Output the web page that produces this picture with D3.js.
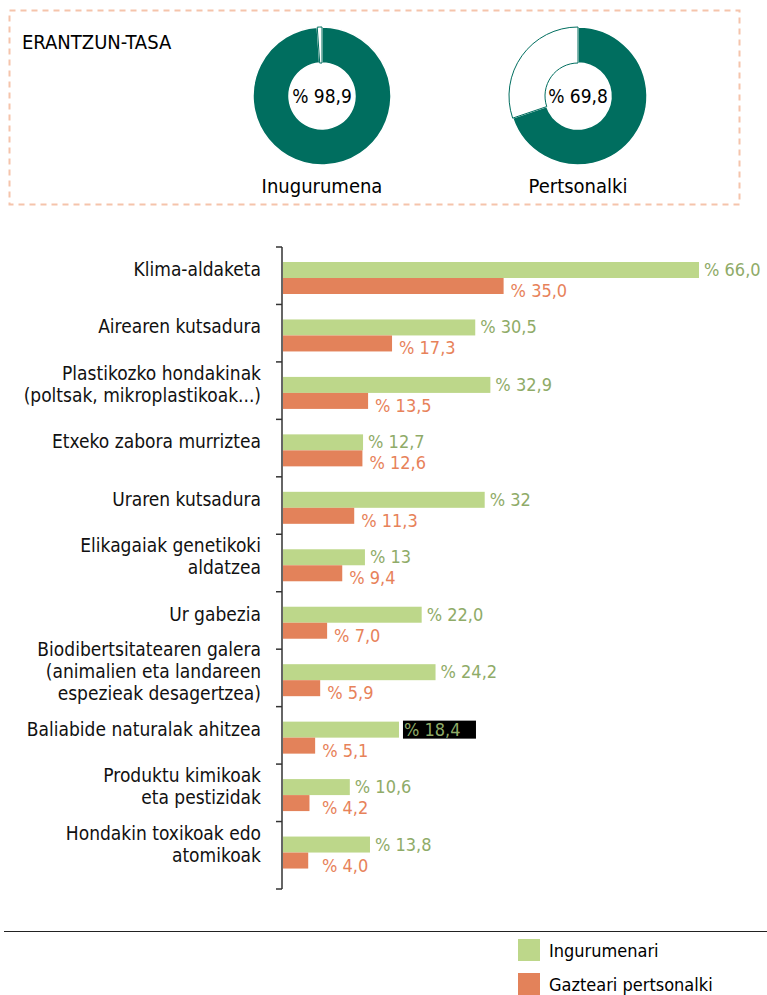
<!DOCTYPE html>
<html>
<head>
<meta charset="utf-8">
<script src="https://cdn.jsdelivr.net/npm/d3@7"></script>
<style>
  body { margin: 0; background: #fff; }
  svg { display: block; font-family: "DejaVu Sans Condensed", "Liberation Sans Narrow", "Roboto", sans-serif; }
</style>
</head>
<body>
<svg width="767" height="995"></svg>
<script>
// erantzun-tasa
var rateNames = ["Inugurumena", "Pertsonalki"]
var rateValues = [98.9, 69.8]

// gaiak
var categories = [
  ["Klima-aldaketa"],
  ["Airearen kutsadura"],
  ["Plastikozko hondakinak", "(poltsak, mikroplastikoak...)"],
  ["Etxeko zabora murriztea"],
  ["Uraren kutsadura"],
  ["Elikagaiak genetikoki", "aldatzea"],
  ["Ur gabezia"],
  ["Biodibertsitatearen galera", "(animalien eta landareen", "espezieak desagertzea)"],
  ["Baliabide naturalak ahitzea"],
  ["Produktu kimikoak", "eta pestizidak"],
  ["Hondakin toxikoak edo", "atomikoak"]
]
var ingurumenari = [66.0, 30.5, 32.9, 12.7, 32, 13, 22.0, 24.2, 18.4, 10.6, 13.8]
var gazteari = [35.0, 17.3, 13.5, 12.6, 11.3, 9.4, 7.0, 5.9, 5.1, 4.2, 4.0]
// as written in the picture
var ingTxt = ["66,0", "30,5", "32,9", "12,7", "32", "13", "22,0", "24,2", "18,4", "10,6", "13,8"]
var gazTxt = ["35,0", "17,3", "13,5", "12,6", "11,3", "9,4", "7,0", "5,9", "5,1", "4,2", "4,0"]
var legendNames = ["Ingurumenari", "Gazteari pertsonalki"]

var green = "#bdd78a", greenTxt = "#8fab68"
var orange = "#e3825a", orangeTxt = "#e7825a"
var teal = "#006e5f"

var svg = d3.select("svg")

// ---- top panel
svg.append("rect")
  .attr("x", 9.5).attr("y", 10.5).attr("width", 730).attr("height", 194)
  .attr("fill", "none").attr("stroke", "#f5c4ab").attr("stroke-width", 2)
  .attr("stroke-dasharray", "6,5")

svg.append("text").attr("x", 22).attr("y", 49)
  .attr("font-size", 20).attr("font-weight", 500).text("ERANTZUN-TASA")

var pie = d3.pie().sort(null)
var arc = d3.arc().innerRadius(33).outerRadius(69)
var cx = d3.scalePoint().domain(rateNames).range([322, 578])

var donut = svg.selectAll("g.donut")
  .data(rateNames)
  .enter()
  .append("g")
    .attr("class", "donut")
    .attr("transform", function(d){ return `translate(${cx(d)}, 96)` })

donut.selectAll("path")
  .data(function(d, i){ return pie([rateValues[i], 100 - rateValues[i]]) })
  .enter()
  .append("path")
    .attr("d", arc)
    .attr("fill", function(d, i){ return i == 0 ? teal : "#fff" })
    .attr("stroke", function(d, i){ return i == 0 ? "#fff" : teal })
    .attr("stroke-width", function(d, i){ return i == 0 ? 1.5 : 1 })

donut.append("text")
  .attr("text-anchor", "middle").attr("y", 7)
  .attr("font-size", 19).attr("font-weight", 500)
  .text(function(d, i){ return "% " + String(rateValues[i]).replace(".", ",") })

donut.append("text")
  .attr("text-anchor", "middle").attr("y", 97)
  .attr("font-size", 20)
  .text(function(d){ return d })

// ---- bars
var y = d3.scaleBand().domain(d3.range(categories.length)).range([247, 879])
var x = d3.scaleLinear().domain([0, 66]).range([283, 699])
var barH = 16

var axis = svg.append("g").attr("transform", "translate(282,0)")
axis.append("line").attr("y1", 247).attr("y2", 889)
  .attr("stroke", "#333").attr("stroke-width", 1.5)
axis.selectAll("line.tick")
  .data(d3.range(categories.length).map(function(i){ return y(i) }).concat([889]))
  .enter()
  .append("line")
    .attr("class", "tick")
    .attr("x1", -6).attr("x2", 0)
    .attr("y1", function(d){ return d }).attr("y2", function(d){ return d })
    .attr("stroke", "#333").attr("stroke-width", 1.5)

var row = svg.selectAll("g.row")
  .data(categories)
  .enter()
  .append("g")
    .attr("class", "row")
    .attr("transform", function(d, i){ return `translate(0, ${y(i) + 15})` })

row.append("rect")
  .attr("x", x(0)).attr("y", 0).attr("height", barH)
  .attr("width", function(d, i){ return x(ingurumenari[i]) - x(0) })
  .attr("fill", green)

row.append("rect")
  .attr("x", x(0)).attr("y", barH).attr("height", barH)
  .attr("width", function(d, i){ return x(gazteari[i]) - x(0) })
  .attr("fill", orange)

// the odd black box behind "% 18,4"
row.filter(function(d, i){ return i == 8 })
  .append("rect")
    .attr("x", x(ingurumenari[8]) + 4)
    .attr("y", -1).attr("width", 73).attr("height", 18)
    .attr("fill", "#000")

row.append("text")
  .attr("x", function(d, i){ return x(ingurumenari[i]) + 5 })
  .attr("y", 14)
  .attr("font-size", 18).attr("font-weight", 500).attr("fill", greenTxt)
  .text(function(d, i){ return "% " + ingTxt[i] })

row.append("text")
  .attr("x", function(d, i){ return Math.max(x(gazteari[i]) + 7, 322) })
  .attr("y", 35)
  .attr("font-size", 18).attr("font-weight", 500).attr("fill", orangeTxt)
  .text(function(d, i){ return "% " + gazTxt[i] })

var lab = row.append("text")
  .attr("text-anchor", "end")
  .attr("font-size", 19).attr("fill", "#111")
lab.selectAll("tspan")
  .data(function(d){ return d.map(function(t){ return { t: t, n: d.length } }) })
  .enter()
  .append("tspan")
    .attr("x", 261)
    .attr("y", function(d, j){ return 14 + (j - (d.n - 1) / 2) * 22 })
    .text(function(d){ return d.t })

// ---- legend
svg.append("line").attr("x1", 4).attr("x2", 767).attr("y1", 931.5).attr("y2", 931.5)
  .attr("stroke", "#222").attr("stroke-width", 1)

var leg = svg.selectAll("g.leg")
  .data(legendNames)
  .enter()
  .append("g")
    .attr("class", "leg")
    .attr("transform", function(d, i){ return `translate(518, ${939 + i * 34})` })
leg.append("rect").attr("width", 22).attr("height", 22)
  .attr("fill", function(d, i){ return i == 0 ? green : orange })
leg.append("text").attr("x", 31).attr("y", 18).attr("font-size", 18)
  .text(function(d){ return d })
</script>
</body>
</html>
